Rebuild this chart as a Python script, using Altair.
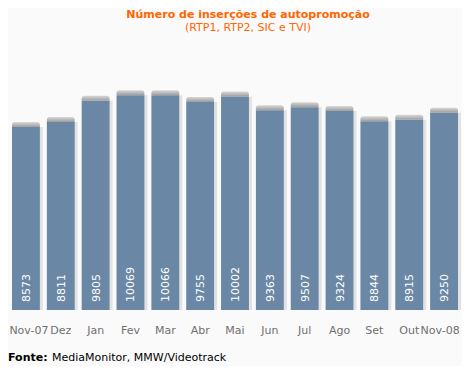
import altair as alt
import pandas as pd

months = ["Nov-07", "Dez", "Jan", "Fev", "Mar", "Abr", "Mai", "Jun", "Jul", "Ago", "Set", "Out", "Nov-08"]
values = [8573, 8811, 9805, 10069, 10066, 9755, 10002, 9363, 9507, 9324, 8844, 8915, 9250]

df = pd.DataFrame({"mes": months, "valor": values})

FONT = "DejaVu Sans"
W, H = 446, 256

x = alt.X("mes:N", sort=months, title=None,
          scale=alt.Scale(paddingInner=0.2, paddingOuter=0),
          axis=alt.Axis(domain=False, ticks=False, labelAngle=0, labelPadding=14,
                        labelOffset=alt.expr("datum.value === 'Nov-08' ? -4 : (datum.value === 'Nov-07' ? 3 : 0)"),
                        labelFont=FONT, labelFontSize=11, labelColor="#707070"))
y = alt.Y("valor:Q", scale=alt.Scale(domain=[0, 12000], nice=False), axis=None)

base = alt.Chart(df)

shadow = base.mark_bar(color="#e2e2e2", xOffset=3).encode(x=x, y=y)
bars = base.mark_bar(color="#6a87a5").encode(x=x, y=y)
caps = base.mark_bar(
    yOffset=-5,
    cornerRadiusTopLeft=3, cornerRadiusTopRight=3,
    color=alt.Gradient(gradient="linear", x1=0, y1=0, x2=0, y2=1,
                       stops=[alt.GradientStop(color="#d8d8d8", offset=0),
                              alt.GradientStop(color="#9c9c9c", offset=1)])
).encode(x=x, y=y, y2=alt.Y2("valor:Q"))

labels = base.mark_text(angle=270, align="left", baseline="middle", dx=8, dy=1,
                        color="white", font=FONT, fontSize=11).encode(
    x=x, y=alt.datum(0), text="valor:Q")

tdf = pd.DataFrame({"t": ["Número de inserções de autopromoção"]})
sdf = pd.DataFrame({"t": ["(RTP1, RTP2, SIC e TVI)"]})
f1 = pd.DataFrame({"t": ["Fonte:"]})
f2 = pd.DataFrame({"t": ["MediaMonitor, MMW/Videotrack"]})

title = alt.Chart(tdf).mark_text(font=FONT, fontSize=11, fontWeight="bold", color="#ff6600",
                                 baseline="middle", align="center").encode(
    x=alt.value(236), y=alt.value(-39), text="t:N")
subtitle = alt.Chart(sdf).mark_text(font=FONT, fontSize=11, color="#ff6600",
                                    baseline="middle", align="center").encode(
    x=alt.value(236), y=alt.value(-26), text="t:N")
src1 = alt.Chart(f1).mark_text(font=FONT, fontSize=11, fontWeight="bold", color="#000000",
                               baseline="middle", align="left").encode(
    x=alt.value(-4), y=alt.value(304), text="t:N")
src2 = alt.Chart(f2).mark_text(font=FONT, fontSize=11, color="#000000",
                               baseline="middle", align="left").encode(
    x=alt.value(40), y=alt.value(304), text="t:N")

chart = alt.layer(shadow, bars, caps, labels, title, subtitle, src1, src2).properties(
    width=W, height=H,
    autosize=alt.AutoSizeParams(type="none"),
    padding={"left": 4, "top": 46, "right": 4, "bottom": 56},
    background="#fafafa",
).configure_view(stroke=None)

chart.save("out.html", embed_options={"renderer": "svg", "actions": False})
